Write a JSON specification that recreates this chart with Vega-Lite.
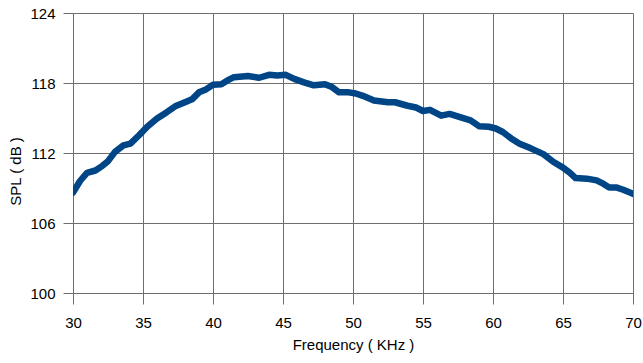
{
  "$schema": "https://vega.github.io/schema/vega-lite/v6.json",
  "width": 560,
  "height": 280,
  "autosize": {"type": "none"},
  "padding": {"left": 73, "top": 13, "right": 10, "bottom": 70},
  "background": "white",
  "config": {
    "view": {"stroke": null},
    "font": "Liberation Sans",
    "axis": {
      "labelFont": "Liberation Sans",
      "titleFont": "Liberation Sans",
      "labelFontSize": 15,
      "titleFontSize": 15,
      "titleFontWeight": "normal",
      "labelColor": "#000000",
      "titleColor": "#000000",
      "gridColor": "#6e6e6e",
      "gridOpacity": 1,
      "gridWidth": 1,
      "domainColor": "#6e6e6e",
      "tickColor": "#6e6e6e",
      "domainWidth": 1,
      "tickWidth": 1
    }
  },
  "data": {
    "values": [
      {"f": 30.0, "spl": 108.6},
      {"f": 30.5, "spl": 109.6},
      {"f": 31.0, "spl": 110.3},
      {"f": 31.6, "spl": 110.5},
      {"f": 32.1, "spl": 110.9},
      {"f": 32.5, "spl": 111.3},
      {"f": 33.0, "spl": 112.1},
      {"f": 33.6, "spl": 112.65},
      {"f": 34.1, "spl": 112.8},
      {"f": 34.7, "spl": 113.5},
      {"f": 35.3, "spl": 114.25},
      {"f": 36.0, "spl": 114.95},
      {"f": 36.7, "spl": 115.5},
      {"f": 37.3, "spl": 116.0},
      {"f": 38.0, "spl": 116.35},
      {"f": 38.5, "spl": 116.6},
      {"f": 39.0, "spl": 117.2},
      {"f": 39.5, "spl": 117.45},
      {"f": 40.0, "spl": 117.85},
      {"f": 40.6, "spl": 117.9},
      {"f": 41.0, "spl": 118.2},
      {"f": 41.5, "spl": 118.5},
      {"f": 42.5, "spl": 118.6},
      {"f": 43.3, "spl": 118.45},
      {"f": 44.0, "spl": 118.7},
      {"f": 44.6, "spl": 118.65},
      {"f": 45.2, "spl": 118.7},
      {"f": 45.8, "spl": 118.35},
      {"f": 46.5, "spl": 118.05},
      {"f": 47.2, "spl": 117.8},
      {"f": 48.0, "spl": 117.9},
      {"f": 48.5, "spl": 117.65},
      {"f": 49.0, "spl": 117.2},
      {"f": 49.7, "spl": 117.2},
      {"f": 50.2, "spl": 117.1},
      {"f": 50.7, "spl": 116.9},
      {"f": 51.5, "spl": 116.5},
      {"f": 52.5, "spl": 116.35},
      {"f": 53.0, "spl": 116.35},
      {"f": 53.9, "spl": 116.05},
      {"f": 54.5, "spl": 115.9},
      {"f": 55.0, "spl": 115.6},
      {"f": 55.5, "spl": 115.7},
      {"f": 56.3, "spl": 115.2},
      {"f": 56.9, "spl": 115.35},
      {"f": 57.7, "spl": 115.05},
      {"f": 58.4, "spl": 114.8},
      {"f": 59.0, "spl": 114.3},
      {"f": 59.7, "spl": 114.25},
      {"f": 60.2, "spl": 114.1},
      {"f": 60.7, "spl": 113.8},
      {"f": 61.3, "spl": 113.25},
      {"f": 61.9, "spl": 112.8},
      {"f": 62.7, "spl": 112.4},
      {"f": 63.6, "spl": 111.9},
      {"f": 64.3, "spl": 111.25},
      {"f": 65.0, "spl": 110.75},
      {"f": 65.5, "spl": 110.3},
      {"f": 65.9, "spl": 109.85},
      {"f": 66.7, "spl": 109.8},
      {"f": 67.4, "spl": 109.65},
      {"f": 67.9, "spl": 109.35},
      {"f": 68.3, "spl": 109.05},
      {"f": 68.8, "spl": 109.05},
      {"f": 69.3, "spl": 108.85},
      {"f": 70.0, "spl": 108.5}
    ]
  },
  "mark": {"type": "line", "color": "#004586", "strokeWidth": 6.5, "strokeCap": "round", "strokeJoin": "round", "clip": true},
  "encoding": {
    "x": {
      "field": "f",
      "type": "quantitative",
      "scale": {"domain": [30, 70], "nice": false, "zero": false},
      "axis": {"title": "Frequency ( KHz )", "values": [30, 35, 40, 45, 50, 55, 60, 65, 70], "tickSize": 11, "labelPadding": 11, "titlePadding": 7, "labelFlush": false, "labelOverlap": false}
    },
    "y": {
      "field": "spl",
      "type": "quantitative",
      "scale": {"domain": [100, 124], "nice": false, "zero": false},
      "axis": {"title": "SPL ( dB )", "values": [100, 106, 112, 118, 124], "tickSize": 10, "labelPadding": 8, "titlePadding": 6, "titleY": 158, "labelFlush": false, "labelOverlap": false}
    }
  }
}
